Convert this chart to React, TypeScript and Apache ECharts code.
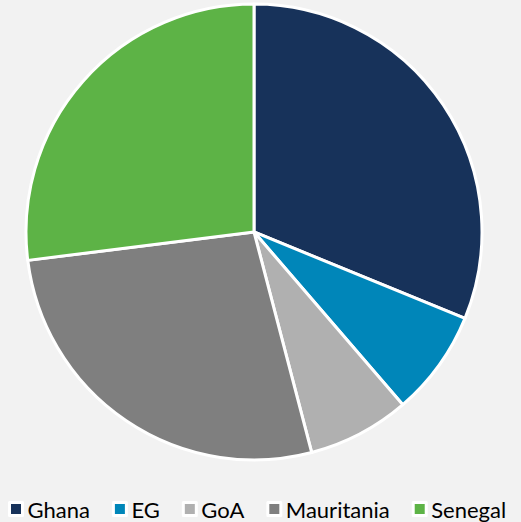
import React, { useEffect, useRef } from "react";
import * as echarts from "echarts";

const categories = ["Ghana", "EG", "GoA", "Mauritania", "Senegal"];
const values = [31.2, 7.5, 7.25, 27.1, 27.0];
const colors = ["#17325A", "#0086B9", "#B0B0B0", "#7F7F7F", "#5DB346"];

export default function App() {
  const ref = useRef<HTMLDivElement>(null);
  useEffect(() => {
    const chart = echarts.init(ref.current!, null, { renderer: "svg" });
    chart.setOption({
      animation: false,
      backgroundColor: "#F2F2F2",
      legend: {
        bottom: -3,
        left: 3,
        itemWidth: 13,
        itemHeight: 13,
        itemGap: 22,
        icon: "rect",
        itemStyle: { borderColor: "#FFFFFF", borderWidth: 3 },
        textStyle: { fontFamily: "Lato", fontSize: 22, color: "#000000", padding: [0, 0, 0, 0] },
        data: categories,
      },
      series: [
        {
          type: "pie",
          center: [254, 232],
          radius: [0, 228],
          startAngle: 90,
          clockwise: true,
          label: { show: false },
          labelLine: { show: false },
          emphasis: { disabled: true },
          itemStyle: { borderColor: "#FFFFFF", borderWidth: 3 },
          data: categories.map((name, i) => ({
            name,
            value: values[i],
            itemStyle: { color: colors[i] },
          })),
        },
      ],
    });
    return () => chart.dispose();
  }, []);
  return (
    <div
      ref={ref}
      style={{ position: "fixed", left: 0, top: 0, width: 521, height: 522 }}
    />
  );
}
